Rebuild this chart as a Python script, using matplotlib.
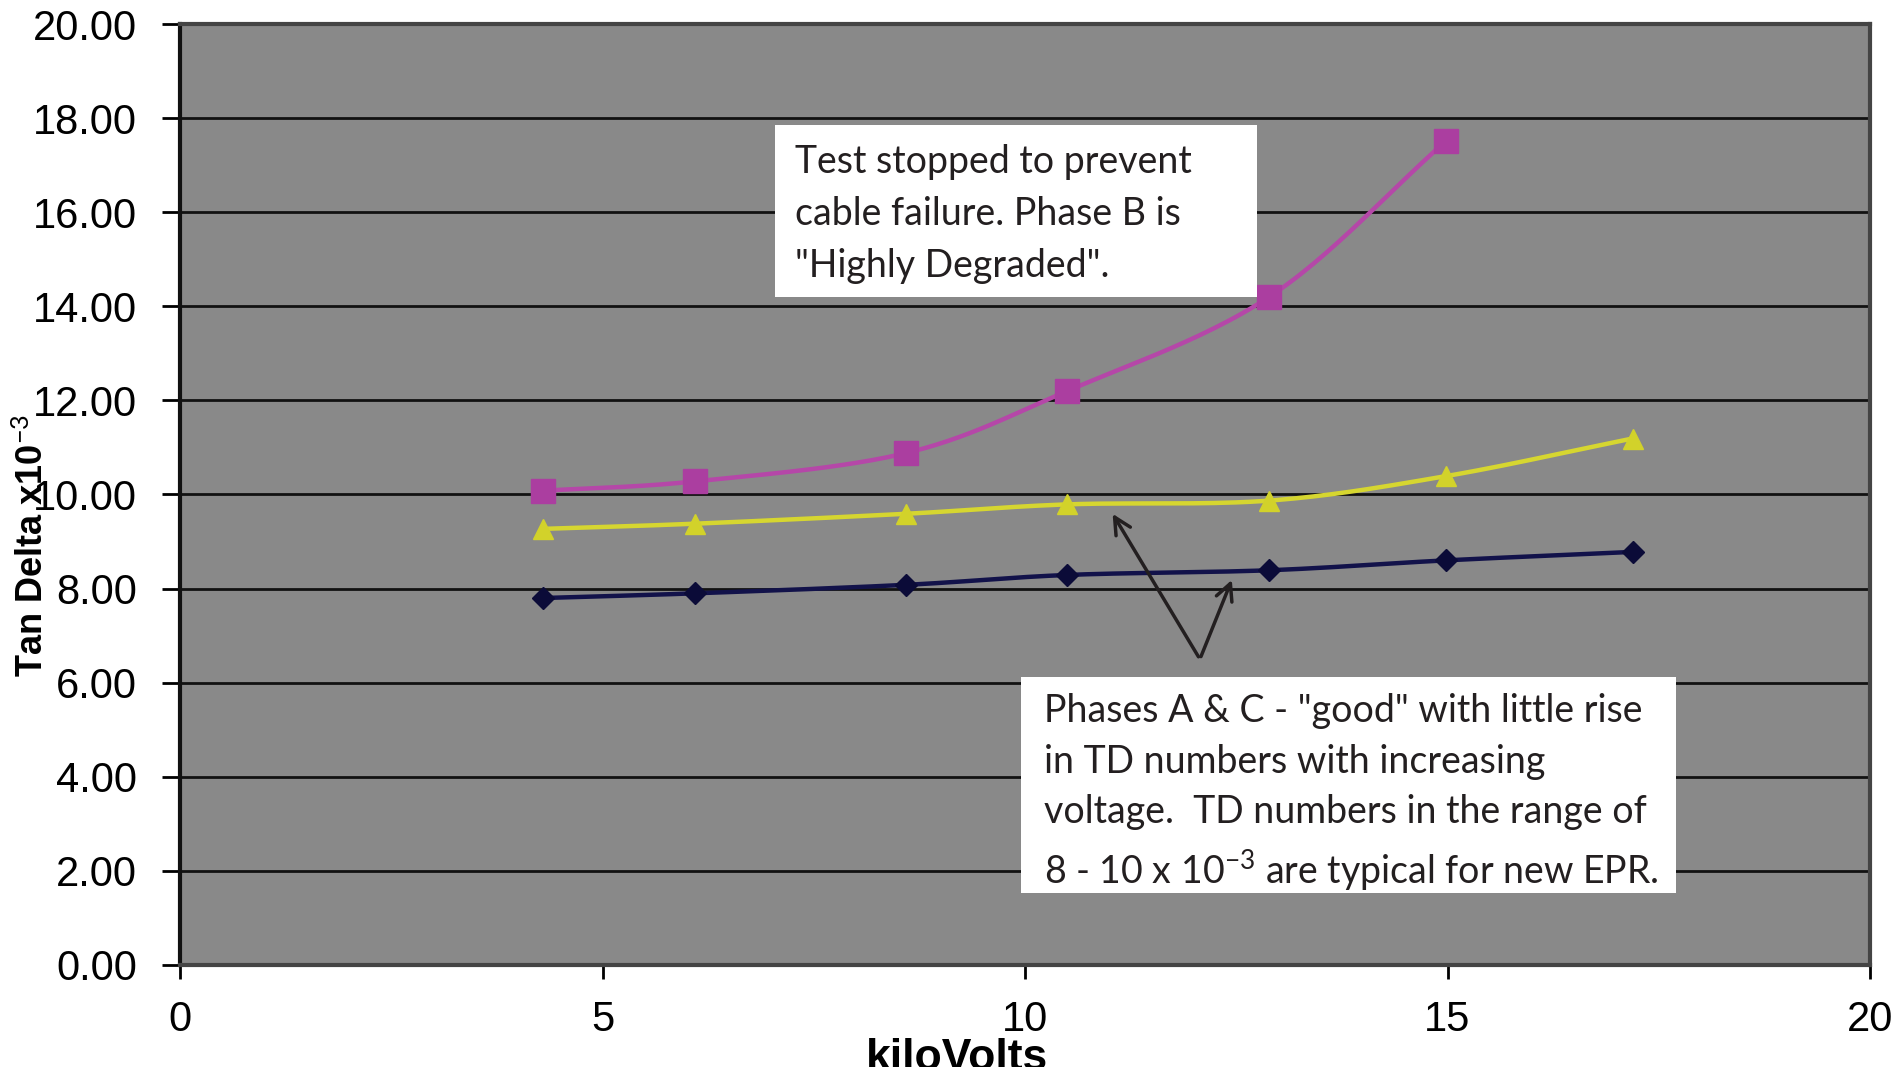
import numpy as np
import matplotlib
matplotlib.use("Agg")
import matplotlib.pyplot as plt
from matplotlib.patches import Rectangle

plt.rcParams['font.family'] = ['Liberation Sans', 'DejaVu Sans']
plt.rcParams['mathtext.fontset'] = 'custom'
plt.rcParams['mathtext.rm'] = 'Lato'
plt.rcParams['mathtext.it'] = 'Lato:italic'
plt.rcParams['mathtext.bf'] = 'Lato:bold'

# datos
kv = [4.30, 6.10, 8.59, 10.50, 12.89, 14.98, 17.19]
fase_b = [10.08, 10.28, 10.88, 12.20, 14.20, 17.51]
fase_c = [9.27, 9.38, 9.59, 9.79, 9.87, 10.39, 11.19]
fase_a = [7.80, 7.90, 8.08, 8.29, 8.39, 8.60, 8.78]

x_ticks = [0, 5, 10, 15, 20]
y_ticks = np.arange(0, 20.01, 2)


def suavizar(x, y, n=30):
    # curva tipo "linea suavizada" de Excel (Catmull-Rom)
    x = np.asarray(x, float)
    y = np.asarray(y, float)
    px = np.concatenate([[2 * x[0] - x[1]], x, [2 * x[-1] - x[-2]]])
    py = np.concatenate([[2 * y[0] - y[1]], y, [2 * y[-1] - y[-2]]])
    xs, ys = [], []
    t = np.linspace(0, 1, n)
    for i in range(1, len(px) - 2):
        for p, out in ((px, xs), (py, ys)):
            p0, p1, p2, p3 = p[i - 1], p[i], p[i + 1], p[i + 2]
            out.extend(0.5 * ((2 * p1) + (-p0 + p2) * t
                              + (2 * p0 - 5 * p1 + 4 * p2 - p3) * t ** 2
                              + (-p0 + 3 * p1 - 3 * p2 + p3) * t ** 3))
    return np.array(xs), np.array(ys)


fig = plt.figure(figsize=(19, 10.67), dpi=100)
ax = fig.add_axes([180 / 1900, 1 - 965 / 1067, 1690 / 1900, 941 / 1067])
ax.set_facecolor('#898989')

series = [
    (kv, fase_a, '#0b0b38', 'D', 11, '#12124a'),
    (kv, fase_c, '#d2d22a', '^', 15, '#d6d630'),
    (kv[:len(fase_b)], fase_b, '#ab3ea0', 's', 17, '#b547a8'),
]
for xs, ys, mc, mk, ms, lc in series:
    sx, sy = suavizar(xs, ys)
    ax.plot(sx, sy, '-', color=lc, lw=3.2, zorder=3)
    ax.plot(xs, ys, mk, color=mc, markersize=ms, zorder=4)

ax.set_xlim(0, 20)
ax.set_ylim(0, 20)
ax.set_xticks(x_ticks)
ax.set_yticks(y_ticks)
ax.set_yticklabels([f'{v:.2f}' for v in y_ticks])
ax.grid(axis='y', color='#111111', lw=2)
ax.set_axisbelow(True)
ax.tick_params(axis='y', length=13, width=2, pad=18, labelsize=30, direction='out')
ax.tick_params(axis='x', length=10, width=2, pad=15, labelsize=30, direction='out')
ax.spines['left'].set_linewidth(3)
ax.spines['left'].set_color('#111111')
for s in ['right', 'bottom', 'top']:
    ax.spines[s].set_linewidth(3)
    ax.spines[s].set_color('#444444')

fig.text(957 / 1900, 1 - 1038 / 1067, 'kiloVolts', fontsize=32, fontweight='bold',
         ha='center', va='top')
fig.text(33 / 1900, 1 - 545 / 1067, 'Tan Delta x10$^{-3}$', fontsize=26,
         fontweight='bold', rotation=90, ha='center', va='center')

# cuadros de texto
fig.patches.append(Rectangle((775 / 1900, 1 - 297 / 1067), 482 / 1900, 172 / 1067,
                             transform=fig.transFigure, facecolor='white',
                             edgecolor='none', zorder=5))
fig.text(795 / 1900, 1 - 144 / 1067,
         'Test stopped to prevent\ncable failure. Phase B is\n"Highly Degraded".',
         fontsize=27, family='Lato', color='#231f20', va='top', ha='left',
         linespacing=1.55, zorder=6)

fig.patches.append(Rectangle((1021 / 1900, 1 - 893 / 1067), 655 / 1900, 216 / 1067,
                             transform=fig.transFigure, facecolor='white',
                             edgecolor='none', zorder=5))
fig.text(1044 / 1900, 1 - 693 / 1067,
         'Phases A & C - "good" with little rise\nin TD numbers with increasing\n'
         'voltage.  TD numbers in the range of\n8 - 10 x 10$^{-3}$ are typical for new EPR.',
         fontsize=27, family='Lato', color='#231f20', va='top', ha='left',
         linespacing=1.5, zorder=6)

# flechas
for tip in [(11.02, 9.64), (12.46, 8.24)]:
    ax.annotate('', xy=tip, xytext=(12.07, 6.50),
                arrowprops=dict(arrowstyle='->', color='#231f20', lw=2.5,
                                mutation_scale=30), zorder=5)

fig.savefig('out.png', dpi=100)
